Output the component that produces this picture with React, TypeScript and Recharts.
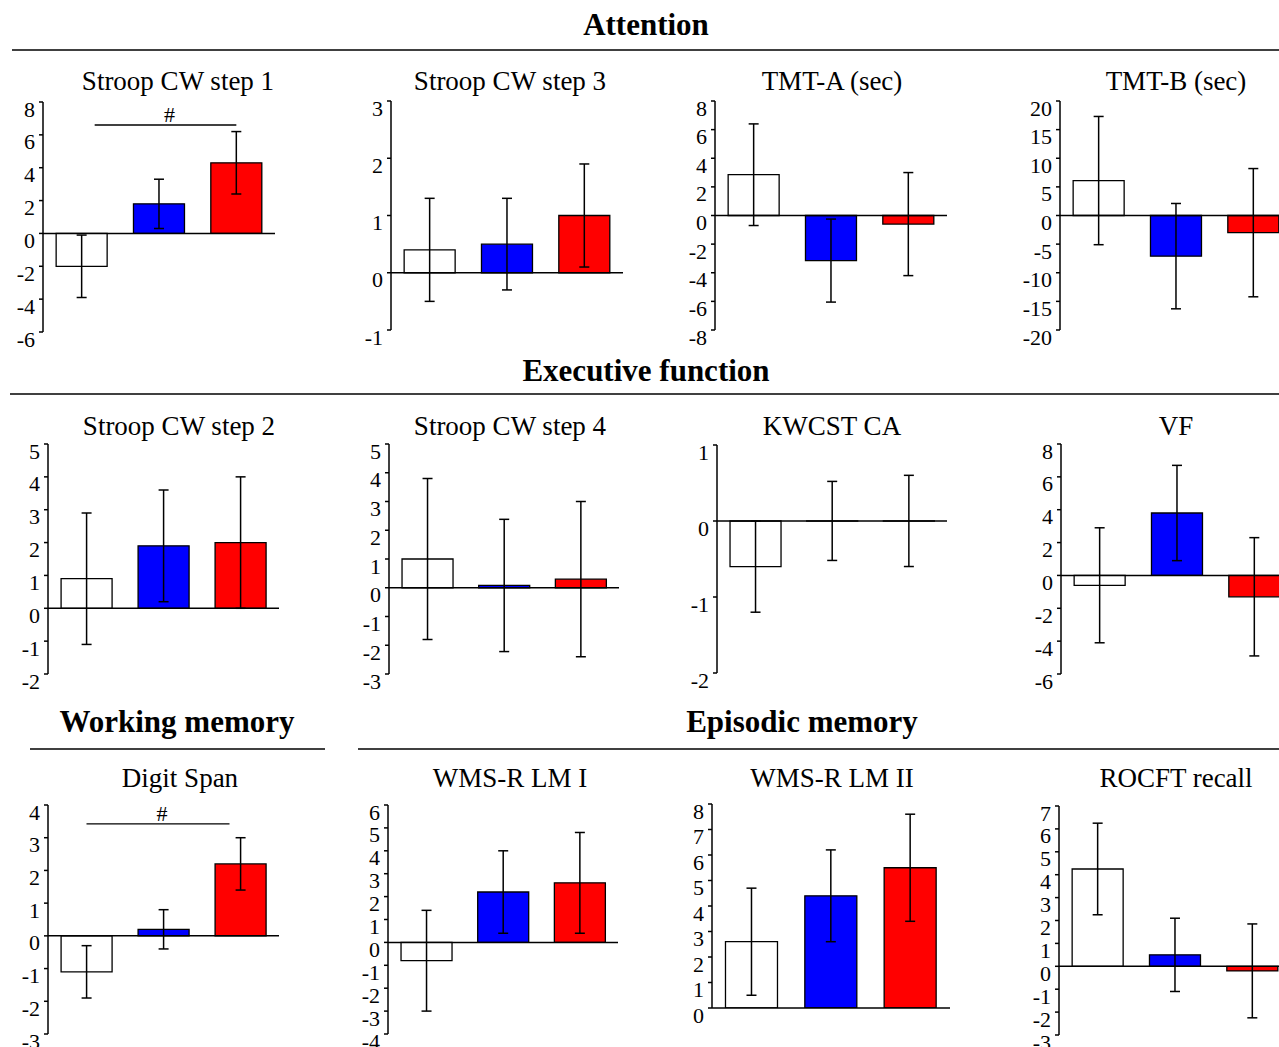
import React from 'react';
import { BarChart, Bar, XAxis, YAxis, ErrorBar, Cell, ReferenceLine } from 'recharts';

// ---------- data ----------
const groups = ['g1', 'g2', 'g3'];
const groupColors = ['#ffffff', '#0000ff', '#ff0000'];

const stroop1Mean = [-2.0, 1.8, 4.3];
const stroop1Err = [1.9, 1.5, 1.9];
const stroop3Mean = [0.4, 0.5, 1.0];
const stroop3Err = [0.9, 0.8, 0.9];
const tmtAMean = [2.85, -3.15, -0.6];
const tmtAErr = [3.55, 2.9, 3.6];
const tmtBMean = [6.1, -7.1, -3.0];
const tmtBErr = [11.2, 9.2, 11.2];
const stroop2Mean = [0.9, 1.9, 2.0];
const stroop2Err = [2.0, 1.7, 2.0];
const stroop4Mean = [1.0, 0.08, 0.3];
const stroop4Err = [2.8, 2.3, 2.7];
const kwcstMean = [-0.6, 0.001, 0.001];
const kwcstErr = [0.6, 0.52, 0.6];
const vfMean = [-0.6, 3.8, -1.3];
const vfErr = [3.5, 2.9, 3.6];
const digitMean = [-1.1, 0.2, 2.2];
const digitErr = [0.8, 0.6, 0.8];
const lm1Mean = [-0.8, 2.2, 2.6];
const lm1Err = [2.2, 1.8, 2.2];
const lm2Mean = [2.6, 4.4, 5.5];
const lm2Err = [2.1, 1.8, 2.1];
const rocftMean = [4.25, 0.5, -0.2];
const rocftErr = [2.0, 1.6, 2.05];

const ticksStroop1 = [-6, -4, -2, 0, 2, 4, 6, 8];
const ticksStroop3 = [-1, 0, 1, 2, 3];
const ticksTmtA = [-8, -6, -4, -2, 0, 2, 4, 6, 8];
const ticksTmtB = [-20, -15, -10, -5, 0, 5, 10, 15, 20];
const ticksStroop2 = [-2, -1, 0, 1, 2, 3, 4, 5];
const ticksStroop4 = [-3, -2, -1, 0, 1, 2, 3, 4, 5];
const ticksKwcst = [-2, -1, 0, 1];
const ticksVf = [-6, -4, -2, 0, 2, 4, 6, 8];
const ticksDigit = [-3, -2, -1, 0, 1, 2, 3, 4];
const ticksLm1 = [-4, -3, -2, -1, 0, 1, 2, 3, 4, 5, 6];
const ticksLm2 = [0, 1, 2, 3, 4, 5, 6, 7, 8];
const ticksRocft = [-3, -2, -1, 0, 1, 2, 3, 4, 5, 6, 7];

const titles = [
  'Stroop CW step 1', 'Stroop CW step 3', 'TMT-A (sec)', 'TMT-B (sec)',
  'Stroop CW step 2', 'Stroop CW step 4', 'KWCST CA', 'VF',
  'Digit Span', 'WMS-R LM I', 'WMS-R LM II', 'ROCFT recall',
];
const sectionTitles = ['Attention', 'Executive function', 'Working memory', 'Episodic memory'];

const sigStroop1 = { from: 'g1', to: 'g3', y: 6.6, label: '#' };
const sigDigit = { from: 'g1', to: 'g3', y: 3.42, label: '#' };

// ---------- panels ----------
const build = (means: number[], errs: number[]) =>
  groups.map((g, i) => ({ group: g, value: means[i], err: errs[i] }));

const panels = [
  { title: titles[0], data: build(stroop1Mean, stroop1Err), ticks: ticksStroop1, sig: sigStroop1 },
  { title: titles[1], data: build(stroop3Mean, stroop3Err), ticks: ticksStroop3 },
  { title: titles[2], data: build(tmtAMean, tmtAErr), ticks: ticksTmtA },
  { title: titles[3], data: build(tmtBMean, tmtBErr), ticks: ticksTmtB },
  { title: titles[4], data: build(stroop2Mean, stroop2Err), ticks: ticksStroop2 },
  { title: titles[5], data: build(stroop4Mean, stroop4Err), ticks: ticksStroop4 },
  { title: titles[6], data: build(kwcstMean, kwcstErr), ticks: ticksKwcst },
  { title: titles[7], data: build(vfMean, vfErr), ticks: ticksVf },
  { title: titles[8], data: build(digitMean, digitErr), ticks: ticksDigit, sig: sigDigit },
  { title: titles[9], data: build(lm1Mean, lm1Err), ticks: ticksLm1 },
  { title: titles[10], data: build(lm2Mean, lm2Err), ticks: ticksLm2 },
  { title: titles[11], data: build(rocftMean, rocftErr), ticks: ticksRocft },
];

// layout: plot area geometry per panel (axis x, top, bottom, right) + title placement
const layout = [
  { ax: 43, top: 102, bottom: 332, right: 275, tx: 178, ty: 90, sigInset: [13, 0] },
  { ax: 391, top: 101, bottom: 330, right: 623, tx: 510, ty: 90 },
  { ax: 715, top: 101, bottom: 330, right: 947, tx: 832, ty: 90 },
  { ax: 1060, top: 101, bottom: 330, right: 1292, tx: 1176, ty: 90 },
  { ax: 48, top: 444, bottom: 674, right: 279, tx: 179, ty: 435 },
  { ax: 389, top: 444, bottom: 674, right: 619, tx: 510, ty: 435 },
  { ax: 717, top: 445, bottom: 673, right: 947, tx: 832, ty: 435 },
  { ax: 1061, top: 444, bottom: 674, right: 1293, tx: 1176, ty: 435 },
  { ax: 48, top: 805, bottom: 1034, right: 279, tx: 180, ty: 787 },
  { ax: 388, top: 805, bottom: 1034, right: 618, tx: 510, ty: 787 },
  { ax: 712, top: 804, bottom: 1008, right: 950, tx: 832, ty: 787 },
  { ax: 1059, top: 806, bottom: 1035, right: 1291, tx: 1176, ty: 787 },
];

const FONT = '"Liberation Serif", "Times New Roman", serif';
const Y_W = 46;
const M_TOP = 14;
const M_BOT = 26;

const YTick = (props: any) => {
  const { x, y, payload } = props;
  return (
    <text x={x} y={y} dy={14.5} textAnchor="end" fontFamily={FONT} fontSize={22} fill="#000">
      {payload.value}
    </text>
  );
};

const makeSigShape = (inset: number[], label: string) => (props: any) => {
  const x1 = props.x1 + inset[0];
  const x2 = props.x2 - inset[1];
  const y = props.y1;
  return (
    <g>
      <line x1={x1} x2={x2} y1={y} y2={y} stroke="#000" strokeWidth={1.3} />
      <text x={(x1 + x2) / 2 + 4} y={y - 3} textAnchor="middle" fontFamily={FONT} fontSize={22} fill="#000">
        {label}
      </text>
    </g>
  );
};

const Panel = ({ p, l }: { p: any; l: any }) => {
  const width = Y_W + (l.right - l.ax) + 2;
  const height = l.bottom - l.top + M_TOP + M_BOT;
  const domain = [p.ticks[0], p.ticks[p.ticks.length - 1]];
  return (
    <div style={{ position: 'absolute', left: l.ax - Y_W, top: l.top - M_TOP }}>
      <BarChart
        width={width}
        height={height}
        data={p.data}
        margin={{ top: M_TOP, right: 2, bottom: M_BOT, left: 0 }}
        barCategoryGap="17%"
      >
        <XAxis dataKey="group" hide />
        <YAxis
          width={Y_W}
          domain={domain}
          ticks={p.ticks}
          interval={0}
          allowDataOverflow
          tick={<YTick />}
          tickSize={4}
          tickMargin={4}
          axisLine={{ stroke: '#000', strokeWidth: 1.5 }}
          tickLine={{ stroke: '#000', strokeWidth: 1.5 }}
        />
        <Bar dataKey="value" stroke="#000" strokeWidth={1.3} isAnimationActive={false}>
          {p.data.map((d: any, i: number) => (
            <Cell key={d.group} fill={groupColors[i]} />
          ))}
          <ErrorBar dataKey="err" width={5} stroke="#000" strokeWidth={1.5} direction="y" />
        </Bar>
        <ReferenceLine y={0} stroke="#000" strokeWidth={1.5} />
        {p.sig ? (
          <ReferenceLine
            segment={[{ x: p.sig.from, y: p.sig.y }, { x: p.sig.to, y: p.sig.y }]}
            shape={makeSigShape(l.sigInset || [0, 11], p.sig.label)}
          />
        ) : null}
      </BarChart>
    </div>
  );
};

export default function App() {
  return (
    <div
      style={{
        position: 'absolute',
        left: 0,
        top: 0,
        width: 1279,
        height: 1047,
        overflow: 'hidden',
        background: '#fff',
      }}
    >
      {panels.map((p, i) => (
        <Panel key={p.title} p={p} l={layout[i]} />
      ))}
      <svg
        width={1279}
        height={1047}
        style={{ position: 'absolute', left: 0, top: 0, pointerEvents: 'none' }}
      >
        <g fontFamily={FONT} fill="#000">
          <text x={646} y={35} textAnchor="middle" fontSize={31} fontWeight="bold">{sectionTitles[0]}</text>
          <text x={646} y={381} textAnchor="middle" fontSize={31} fontWeight="bold">{sectionTitles[1]}</text>
          <text x={177} y={732} textAnchor="middle" fontSize={31} fontWeight="bold">{sectionTitles[2]}</text>
          <text x={802} y={732} textAnchor="middle" fontSize={31} fontWeight="bold">{sectionTitles[3]}</text>
          {panels.map((p, i) => (
            <text key={p.title} x={layout[i].tx} y={layout[i].ty} textAnchor="middle" fontSize={27}>
              {p.title}
            </text>
          ))}
        </g>
        <g stroke="#000" strokeWidth={1.5}>
          <line x1={12} x2={1279} y1={50} y2={50} />
          <line x1={10} x2={1279} y1={394} y2={394} />
          <line x1={30} x2={325} y1={749} y2={749} />
          <line x1={358} x2={1279} y1={749} y2={749} />
        </g>
      </svg>
    </div>
  );
}
